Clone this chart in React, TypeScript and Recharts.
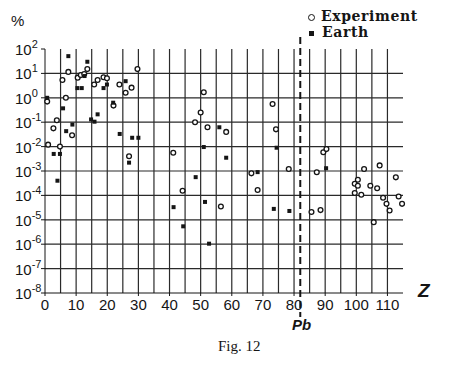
import React from 'react';
import { ScatterChart, Scatter, XAxis, YAxis, ReferenceLine } from 'recharts';

// Z (atomic number) and abundance in %
const expZ = [0.7, 1.0, 2.7, 3.8, 4.8, 5.6, 6.7, 7.5, 8.7, 10.5, 11.5, 12.6, 13.6, 15.8, 16.9, 18.8, 19.9, 22, 23.9, 25.9, 27, 27.8, 29.7, 41.2, 44.2, 48.2, 50, 51, 52.2, 56.5, 58.2, 66.3, 68.3, 73.1, 74.2, 78.3, 85.6, 87.3, 88.5, 89.4, 90.4, 99.5, 100.5, 100.5, 99.5, 101.6, 102.5, 104.5, 105.6, 106.7, 107.5, 108.6, 109.7, 110.7, 112.7, 113.6, 114.7];
const expVal = [0.7, 0.012, 0.056, 0.12, 0.01, 5.4, 1.0, 11.5, 0.029, 6.7, 8.5, 9.5, 15, 3.5, 5.4, 7, 6.3, 0.48, 3.5, 1.6, 0.004, 2.6, 15, 0.0056, 1.55e-4, 0.1, 0.25, 1.7, 0.062, 3.5e-5, 0.04, 8e-4, 1.66e-4, 0.56, 0.051, 0.0012, 2.1e-5, 8.9e-4, 2.5e-5, 0.0059, 0.0079, 3e-4, 4.4e-4, 2.5e-4, 1.26e-4, 1.07e-4, 0.0012, 2.5e-4, 8e-6, 1.95e-4, 0.0017, 8e-5, 4.5e-5, 2.4e-5, 5.5e-4, 9e-5, 4.5e-5];

const earthZ = [0.7, 2.8, 4.8, 4, 5.8, 6.8, 7.5, 8.8, 10.4, 11.8, 12.7, 13.6, 14.8, 15.9, 16.9, 18.8, 19.9, 21.9, 24, 25.9, 27, 28, 30, 41.3, 44.4, 48.4, 51, 51.4, 52.7, 56, 58.2, 68.3, 73.5, 74.4, 78.5, 90.3];
const earthVal = [1.0, 0.005, 0.005, 4e-4, 0.37, 0.043, 51, 0.08, 2.5, 2.5, 7.8, 30, 0.13, 0.105, 0.21, 2.5, 3.5, 0.63, 0.033, 4.8, 0.0022, 0.023, 0.023, 3.3e-5, 5.4e-6, 5.6e-4, 0.0096, 5.4e-5, 1.05e-6, 0.062, 0.0035, 9e-4, 2.8e-5, 0.009, 2.3e-5, 0.0013];

const xTicks = [0, 10, 20, 30, 40, 50, 60, 70, 80, 90, 100, 110];
const xGrid = [5, 10, 15, 20, 25, 30, 35, 40, 45, 50, 55, 60, 65, 70, 75, 80, 85, 90, 95, 100, 105, 110];
const yTicks = [1e-8, 1e-7, 1e-6, 1e-5, 1e-4, 1e-3, 1e-2, 1e-1, 1, 10, 100];
const yGrid = [1e-7, 1e-6, 1e-5, 1e-4, 1e-3, 1e-2, 1e-1, 1, 10];
const pbZ = 82;

const expData = expZ.map((z, i) => ({ z, v: expVal[i] }));
const earthData = earthZ.map((z, i) => ({ z, v: earthVal[i] }));

const ink = '#151515';
const sans = '"Liberation Sans", Arial, sans-serif';

const YTick = (props: any) => {
  const { x, y, payload } = props;
  const e = Math.round(Math.log10(payload.value));
  return (
    <text x={x - 24} y={y + 6} textAnchor="start" fontFamily={sans} fontSize={15} fill={ink}>
      <tspan>10</tspan>
      <tspan dy={-7} fontSize={11}>{e}</tspan>
    </text>
  );
};

const Circle = (props: any) => (
  <circle cx={props.cx} cy={props.cy} r={2.4} fill="#fff" stroke={ink} strokeWidth={1.3} />
);
const Square = (props: any) => (
  <rect x={props.cx - 2} y={props.cy - 2} width={4} height={4} fill={ink} />
);

const LegendBox = () => (
  <div style={{ fontFamily: '"DejaVu Serif", serif', fontWeight: 'bold', fontSize: 14, letterSpacing: 0.6, color: ink, lineHeight: '16px' }}>
    <div><span style={{ display: 'inline-block', width: 5, height: 5, border: `1.3px solid ${ink}`, borderRadius: '50%', marginRight: 6, verticalAlign: 'middle' }} />Experiment</div>
    <div><span style={{ display: 'inline-block', width: 5, height: 5, background: ink, marginRight: 8, marginLeft: 1, verticalAlign: 'middle' }} />Earth</div>
  </div>
);

export default function App() {
  return (
    <div style={{ position: 'absolute', left: 0, top: 0, width: 452, height: 370, background: '#fff' }}>
      <ScatterChart width={452} height={370} margin={{ top: 49, right: 49, bottom: 47, left: 0 }}>
        <XAxis
          type="number"
          dataKey="z"
          domain={[0, 115]}
          ticks={xTicks}
          interval={0}
          stroke={ink}
          tickSize={3}
          height={30}
          tick={{ fill: ink, fontFamily: sans, fontSize: 15 }}
          tickMargin={3}
        />
        <YAxis
          type="number"
          dataKey="v"
          scale="log"
          domain={[1e-8, 100]}
          ticks={yTicks}
          interval={0}
          allowDataOverflow
          stroke={ink}
          tickSize={4}
          width={45}
          tick={<YTick />}
        />
        {xGrid.map((g) => (
          <ReferenceLine key={'x' + g} x={g} stroke="#2a2a2a" strokeWidth={1.2} />
        ))}
        {yGrid.map((g) => (
          <ReferenceLine key={'y' + g} y={g} stroke="#2a2a2a" strokeWidth={1.2} />
        ))}
        <ReferenceLine
          segment={[{ x: pbZ, y: 310 }, { x: pbZ, y: 1.05e-9 }]}
          ifOverflow="visible"
          stroke={ink}
          strokeWidth={2}
          strokeDasharray="7 4"
        />
        <Scatter data={expData} shape={<Circle />} isAnimationActive={false} name="Experiment" />
        <Scatter data={earthData} shape={<Square />} isAnimationActive={false} name="Earth" />
      </ScatterChart>
      <div style={{ position: 'absolute', left: 308, top: 8 }}><LegendBox /></div>
      <div style={{ position: 'absolute', left: 11, top: 12, fontFamily: sans, fontSize: 15, color: ink }}>%</div>
      <div style={{ position: 'absolute', left: 418, top: 280, fontFamily: sans, fontSize: 19, fontWeight: 'bold', fontStyle: 'italic', color: ink }}>Z</div>
      <div style={{ position: 'absolute', left: 292, top: 316, fontFamily: sans, fontSize: 15, fontWeight: 'bold', fontStyle: 'italic', color: ink }}>Pb</div>
      <div style={{ position: 'absolute', left: 218, top: 338, fontFamily: '"Liberation Serif", serif', fontSize: 15, color: ink }}>Fig. 12</div>
    </div>
  );
}
